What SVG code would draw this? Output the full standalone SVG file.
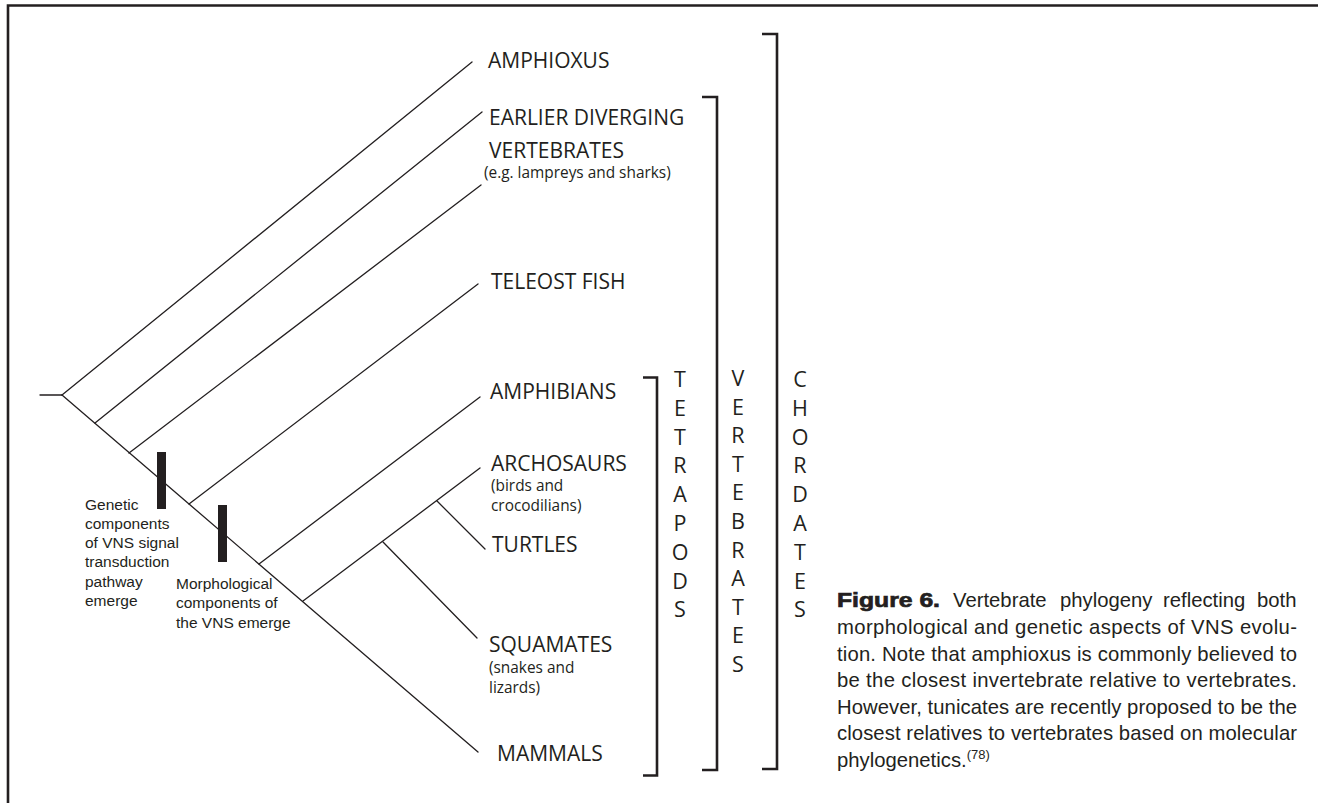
<svg xmlns="http://www.w3.org/2000/svg" width="1318" height="803" viewBox="0 0 1318 803">
<style>
.ln{stroke:#231f20;stroke-width:1.3;fill:none;stroke-linecap:round}
.br{stroke:#231f20;stroke-width:2.6;fill:none}
.lab{font-family:"Open Sans","Liberation Sans",sans-serif;font-size:21px;fill:#231f20}
.sub{font-family:"Open Sans","Liberation Sans",sans-serif;font-size:15.4px;fill:#231f20}
.let{font-family:"Open Sans","Liberation Sans",sans-serif;font-size:21.5px;fill:#231f20;text-anchor:middle}
.ann{font-family:"Liberation Sans",Arial,sans-serif;font-size:15.5px;fill:#231f20}
.cap{font-family:"Liberation Sans",Arial,sans-serif;font-size:20.3px;fill:#231f20}
.bar{fill:#231f20}
</style>
<rect x="0" y="0" width="1318" height="803" fill="#ffffff"/>
<g id="frame">
<path class="br" d="M8 803 V5.5 H1318"/>
</g>
<g id="connectors">
<line class="ln" x1="40" y1="395" x2="62" y2="395"/>
<line class="ln" x1="62" y1="395" x2="478" y2="752"/>
<line class="ln" x1="62" y1="395" x2="472" y2="62"/>
<line class="ln" x1="95" y1="423" x2="482" y2="112"/>
<line class="ln" x1="129" y1="453" x2="481" y2="185"/>
<line class="ln" x1="189" y1="504" x2="478" y2="284"/>
<line class="ln" x1="259" y1="564" x2="480" y2="397"/>
<line class="ln" x1="303" y1="601" x2="480" y2="468"/>
<line class="ln" x1="383" y1="542" x2="477" y2="638"/>
<line class="ln" x1="437" y1="501" x2="485" y2="549"/>
</g>
<g id="marker-genetic">
<rect class="bar" x="157" y="452" width="9" height="57"/>
<text class="ann"><tspan x="85" y="509.5">Genetic</tspan><tspan x="85" y="528.8">components</tspan><tspan x="85" y="548.1">of VNS signal</tspan><tspan x="85" y="567.4">transduction</tspan><tspan x="85" y="586.7">pathway</tspan><tspan x="85" y="606">emerge</tspan></text>
</g>
<g id="marker-morphological">
<rect class="bar" x="218" y="505" width="9" height="57"/>
<text class="ann"><tspan x="176" y="589">Morphological</tspan><tspan x="176" y="608.3">components of</tspan><tspan x="176" y="627.6">the VNS emerge</tspan></text>
</g>
<g id="amphioxus"><text class="lab" x="488" y="68">AMPHIOXUS</text></g>
<g id="earlier-vertebrates">
<text class="lab" x="489" y="125">EARLIER DIVERGING</text>
<text class="lab" x="489" y="158">VERTEBRATES</text>
<text class="sub" x="484" y="178">(e.g. lampreys and sharks)</text>
</g>
<g id="teleost"><text class="lab" x="491" y="289">TELEOST FISH</text></g>
<g id="amphibians"><text class="lab" x="490" y="399">AMPHIBIANS</text></g>
<g id="archosaurs">
<text class="lab" x="491" y="471">ARCHOSAURS</text>
<text class="sub" x="491" y="491">(birds and</text>
<text class="sub" x="491" y="511">crocodilians)</text>
</g>
<g id="turtles"><text class="lab" x="492" y="552">TURTLES</text></g>
<g id="squamates">
<text class="lab" x="489" y="652">SQUAMATES</text>
<text class="sub" x="489" y="673">(snakes and</text>
<text class="sub" x="489" y="693">lizards)</text>
</g>
<g id="mammals"><text class="lab" x="497" y="761">MAMMALS</text></g>
<g id="tetrapods">
<path class="br" d="M643 377.5 H657 V775.5 H643"/>
<text class="let"><tspan x="680" y="387">T</tspan><tspan x="680" y="415.8">E</tspan><tspan x="680" y="444.6">T</tspan><tspan x="680" y="473.4">R</tspan><tspan x="680" y="502.2">A</tspan><tspan x="680" y="531">P</tspan><tspan x="680" y="559.8">O</tspan><tspan x="680" y="588.6">D</tspan><tspan x="680" y="617.4">S</tspan></text>
</g>
<g id="vertebrates">
<path class="br" d="M702 97 H717 V770 H702"/>
<text class="let"><tspan x="738" y="386">V</tspan><tspan x="738" y="414.6">E</tspan><tspan x="738" y="443.2">R</tspan><tspan x="738" y="471.8">T</tspan><tspan x="738" y="500.4">E</tspan><tspan x="738" y="529">B</tspan><tspan x="738" y="557.6">R</tspan><tspan x="738" y="586.2">A</tspan><tspan x="738" y="614.8">T</tspan><tspan x="738" y="643.4">E</tspan><tspan x="738" y="672">S</tspan></text>
</g>
<g id="chordates">
<path class="br" d="M762 34 H777 V769 H762"/>
<text class="let"><tspan x="800" y="387">C</tspan><tspan x="800" y="415.8">H</tspan><tspan x="800" y="444.6">O</tspan><tspan x="800" y="473.4">R</tspan><tspan x="800" y="502.2">D</tspan><tspan x="800" y="531">A</tspan><tspan x="800" y="559.8">T</tspan><tspan x="800" y="588.6">E</tspan><tspan x="800" y="617.4">S</tspan></text>
</g>
<g id="caption">
<text class="cap" x="837" y="607" font-weight="bold" stroke="#231f20" stroke-width="0.7" textLength="103" lengthAdjust="spacingAndGlyphs">Figure 6.</text>
<text class="cap" y="607"><tspan x="953">Vertebrate</tspan><tspan x="1060">phylogeny</tspan><tspan x="1163">reflecting</tspan><tspan x="1257">both</tspan></text>
<text class="cap" x="837" y="634" textLength="460" lengthAdjust="spacing">morphological and genetic aspects of VNS evolu-</text>
<text class="cap" x="837" y="660.5" textLength="460" lengthAdjust="spacing">tion. Note that amphioxus is commonly believed to</text>
<text class="cap" x="837" y="687" textLength="460" lengthAdjust="spacing">be the closest invertebrate relative to vertebrates.</text>
<text class="cap" x="837" y="713.5" textLength="460" lengthAdjust="spacing">However, tunicates are recently proposed to be the</text>
<text class="cap" x="837" y="740" textLength="460" lengthAdjust="spacing">closest relatives to vertebrates based on molecular</text>
<text class="cap" x="837" y="766.5">phylogenetics.<tspan font-size="13" dy="-8">(78)</tspan></text>
</g>
</svg>
